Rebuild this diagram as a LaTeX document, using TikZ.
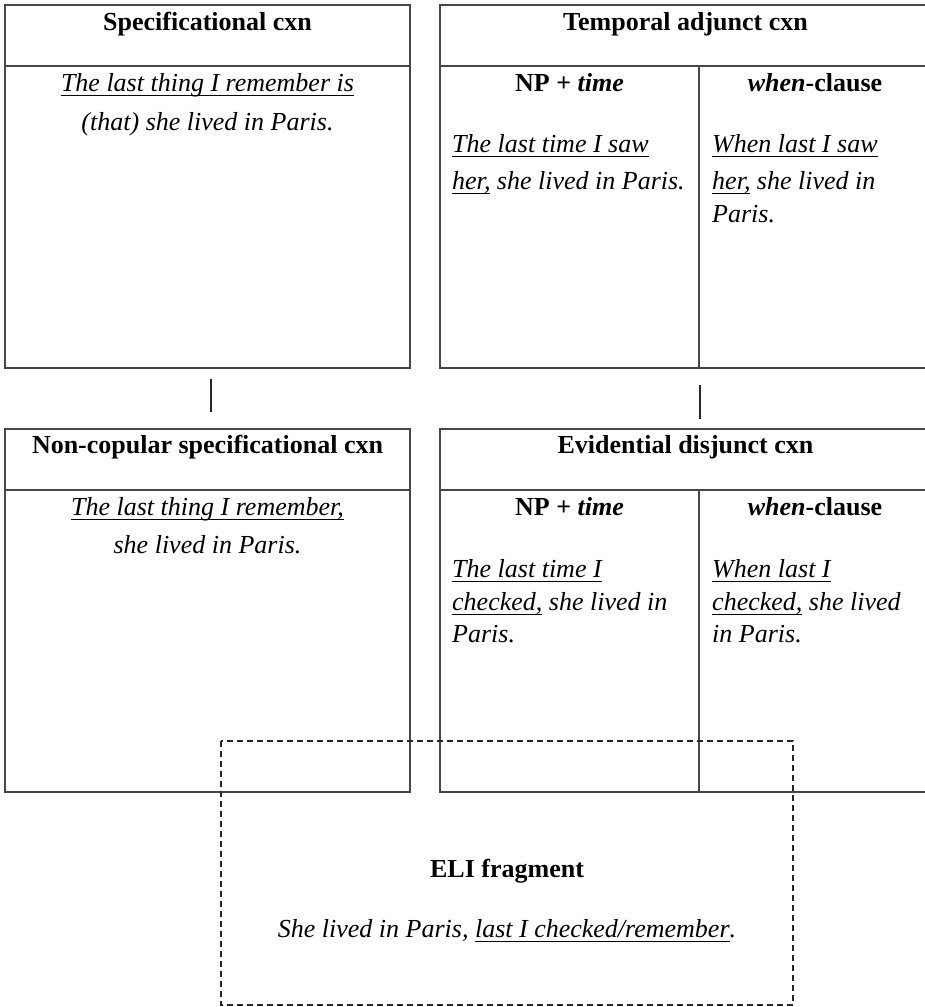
\documentclass[tikz,border=0pt]{standalone}
\usepackage{fontspec}
\setmainfont{Liberation Serif}
\newcommand\undl[1]{\setbox0\hbox{#1}\rlap{\rule[-4.6pt]{\wd0}{1.1pt}}\box0\relax}
\begin{document}
\begin{tikzpicture}[x=1pt,y=-1pt,
  box/.style={draw=black!72, line width=1.4pt},
  link/.style={draw=black!85, line width=1.6pt},
  eli/.style={draw=black!85, line width=1.4pt, dash pattern=on 6pt off 4pt},
  head/.style={inner sep=0pt, anchor=base, font=\fontsize{26}{31}\selectfont\bfseries},
  txtc/.style={inner sep=0pt, anchor=base, font=\fontsize{26}{31}\selectfont\itshape},
  txtl/.style={inner sep=0pt, anchor=base west, font=\fontsize{26}{31}\selectfont\itshape}]
\useasboundingbox (0,0) rectangle (925,1007);
% top-left box
\draw[box] (5,5) rectangle (410,368);
\draw[box] (5,66) -- (410,66);
% top-right box
\draw[box] (440,5) rectangle (931,368);
\draw[box] (440,66) -- (931,66);
\draw[box] (699,66) -- (699,368);
% bottom-left box
\draw[box] (5,429) rectangle (410,792);
\draw[box] (5,490) -- (410,490);
% bottom-right box
\draw[box] (440,429) rectangle (931,792);
\draw[box] (440,490) -- (931,490);
\draw[box] (699,490) -- (699,792);
% connectors
\coordinate (la) at (211,379);
\coordinate (lb) at (211,412);
\coordinate (ra) at (700,385);
\coordinate (rb) at (700,419);
\draw[link] (la) -- (lb);
\draw[link] (ra) -- (rb);
% ELI dashed box
\draw[eli] (221,741) rectangle (793,1005);

% texts top-left
\node[head] (h1) at (207.5,30) {Specificational cxn};
\node[txtc] (t1a) at (207.5,91) {\undl{The last thing I remember is}};
\node[txtc] (t1b) at (207.5,130) {(that) she lived in Paris.};
% texts top-right
\node[head] (h2) at (685.5,30) {Temporal adjunct cxn};
\node[head] (s2a) at (569.5,91) {NP + \textit{time}};
\node[head] (s2b) at (815,91) {\textit{when}-clause};
\node[txtl] (t2a) at (452,152) {\undl{The last time I saw}};
\node[txtl] (t2b) at (452,189) {\undl{her,} she lived in Paris.};
\node[txtl] (t2c) at (712,152) {\undl{When last I saw}};
\node[txtl] (t2d) at (712,189) {\undl{her,} she lived in};
\node[txtl] (t2e) at (712,222) {Paris.};
% texts bottom-left
\node[head] (h3) at (207.5,453) {Non-copular specificational cxn};
\node[txtc] (t3a) at (207.5,515) {\undl{The last thing I remember,}};
\node[txtc] (t3b) at (207.5,553) {she lived in Paris.};
% texts bottom-right
\node[head] (h4) at (685.5,453) {Evidential disjunct cxn};
\node[head] (s4a) at (569.5,515) {NP + \textit{time}};
\node[head] (s4b) at (815,515) {\textit{when}-clause};
\node[txtl] (t4a) at (452,577) {\undl{The last time I}};
\node[txtl] (t4b) at (452,610) {\undl{checked,} she lived in};
\node[txtl] (t4c) at (452,642) {Paris.};
\node[txtl] (t4d) at (712,577) {\undl{When last I}};
\node[txtl] (t4e) at (712,610) {\undl{checked,} she lived};
\node[txtl] (t4f) at (712,642) {in Paris.};
% ELI texts
\node[head] (h5) at (507,877) {ELI fragment};
\node[txtc] (t5) at (507,937) {She lived in Paris, \undl{last I checked/remember}.};
\end{tikzpicture}
\end{document}
